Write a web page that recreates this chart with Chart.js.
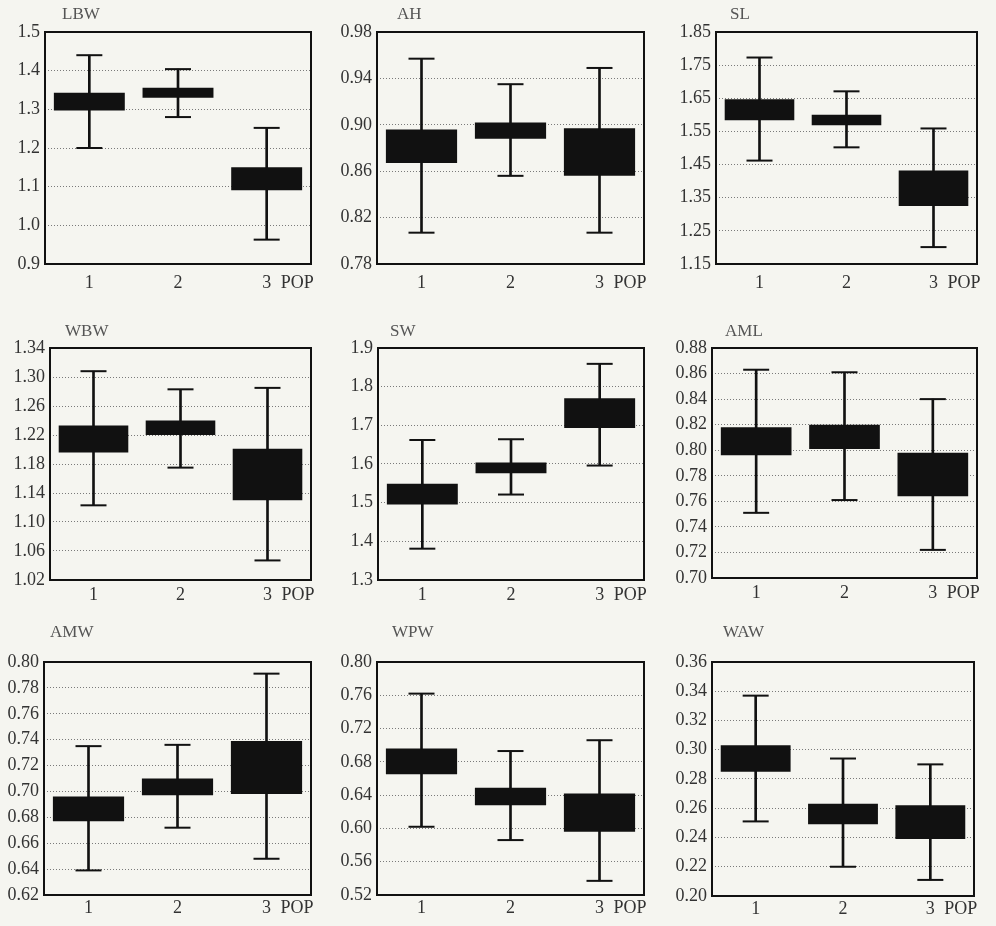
<!DOCTYPE html>
<html>
<head>
<meta charset="utf-8">
<script src="https://cdn.jsdelivr.net/npm/chart.js@4.4.0/dist/chart.umd.min.js"></script>
<style>
  body { margin: 0; background: #f5f5f0; }
  #wrap { position: relative; width: 996px; height: 926px; overflow: hidden; }
  .panel { position: absolute; }
</style>
</head>
<body>
<div id="wrap"></div>
<script>
const pops = ['1', '2', '3'];

// whisker low / box low / box high / whisker high, per population
const lbwMin = [1.200, 1.280, 0.963];
const lbwLo  = [1.297, 1.330, 1.091];
const lbwHi  = [1.343, 1.356, 1.150];
const lbwMax = [1.440, 1.404, 1.252];
const lbwTicks = ['0.9', '1.0', '1.1', '1.2', '1.3', '1.4', '1.5'];

const ahMin = [0.807, 0.856, 0.807];
const ahLo  = [0.867, 0.888, 0.856];
const ahHi  = [0.896, 0.902, 0.897];
const ahMax = [0.957, 0.935, 0.949];
const ahTicks = ['0.78', '0.82', '0.86', '0.90', '0.94', '0.98'];

const slMin = [1.462, 1.502, 1.201];
const slLo  = [1.584, 1.569, 1.325];
const slHi  = [1.647, 1.600, 1.432];
const slMax = [1.773, 1.671, 1.559];
const slTicks = ['1.15', '1.25', '1.35', '1.45', '1.55', '1.65', '1.75', '1.85'];

const wbwMin = [1.123, 1.175, 1.047];
const wbwLo  = [1.196, 1.220, 1.130];
const wbwHi  = [1.233, 1.240, 1.201];
const wbwMax = [1.308, 1.283, 1.285];
const wbwTicks = ['1.02', '1.06', '1.10', '1.14', '1.18', '1.22', '1.26', '1.30', '1.34'];

const swMin = [1.381, 1.521, 1.596];
const swLo  = [1.495, 1.576, 1.693];
const swHi  = [1.549, 1.604, 1.770];
const swMax = [1.662, 1.664, 1.859];
const swTicks = ['1.3', '1.4', '1.5', '1.6', '1.7', '1.8', '1.9'];

const amlMin = [0.751, 0.761, 0.722];
const amlLo  = [0.796, 0.801, 0.764];
const amlHi  = [0.818, 0.820, 0.798];
const amlMax = [0.863, 0.861, 0.840];
const amlTicks = ['0.70', '0.72', '0.74', '0.76', '0.78', '0.80', '0.82', '0.84', '0.86', '0.88'];

const amwMin = [0.639, 0.672, 0.648];
const amwLo  = [0.677, 0.697, 0.698];
const amwHi  = [0.696, 0.710, 0.739];
const amwMax = [0.735, 0.736, 0.791];
const amwTicks = ['0.62', '0.64', '0.66', '0.68', '0.70', '0.72', '0.74', '0.76', '0.78', '0.80'];

const wpwMin = [0.602, 0.586, 0.537];
const wpwLo  = [0.665, 0.628, 0.596];
const wpwHi  = [0.696, 0.649, 0.642];
const wpwMax = [0.762, 0.693, 0.706];
const wpwTicks = ['0.52', '0.56', '0.60', '0.64', '0.68', '0.72', '0.76', '0.80'];

const wawMin = [0.251, 0.220, 0.211];
const wawLo  = [0.285, 0.249, 0.239];
const wawHi  = [0.303, 0.263, 0.262];
const wawMax = [0.337, 0.294, 0.290];
const wawTicks = ['0.20', '0.22', '0.24', '0.26', '0.28', '0.30', '0.32', '0.34', '0.36'];

const panels = [
  { name: 'LBW', min: lbwMin, lo: lbwLo, hi: lbwHi, max: lbwMax, ticks: lbwTicks },
  { name: 'AH',  min: ahMin,  lo: ahLo,  hi: ahHi,  max: ahMax,  ticks: ahTicks },
  { name: 'SL',  min: slMin,  lo: slLo,  hi: slHi,  max: slMax,  ticks: slTicks },
  { name: 'WBW', min: wbwMin, lo: wbwLo, hi: wbwHi, max: wbwMax, ticks: wbwTicks },
  { name: 'SW',  min: swMin,  lo: swLo,  hi: swHi,  max: swMax,  ticks: swTicks },
  { name: 'AML', min: amlMin, lo: amlLo, hi: amlHi, max: amlMax, ticks: amlTicks },
  { name: 'AMW', min: amwMin, lo: amwLo, hi: amwHi, max: amwMax, ticks: amwTicks },
  { name: 'WPW', min: wpwMin, lo: wpwLo, hi: wpwHi, max: wpwMax, ticks: wpwTicks },
  { name: 'WAW', min: wawMin, lo: wawLo, hi: wawHi, max: wawMax, ticks: wawTicks }
];

// plot area on the page: left, top, right, bottom, title dx, title gap, label gap
const rects = [
  [45, 32, 316, 264, 17, 17, 8], [377, 32, 649, 264, 20, 17, 8], [716, 32, 982, 264, 14, 17, 8],
  [50, 348, 316, 580, 15, 16, 4], [378, 348, 649, 580, 12, 16, 4], [712, 348, 982, 578, 13, 16, 4],
  [44, 662, 316, 895, 6, 29, 2], [377, 662, 649, 895, 15, 29, 2], [712, 662, 979, 896, 11, 29, 2]
];

const FONT = '"Liberation Serif", "Times New Roman", serif';
const INK = '#111';

const framePlugin = {
  id: 'frame',
  afterDraw(chart, args, opts) {
    const { ctx, chartArea: a } = chart;
    ctx.save();
    ctx.strokeStyle = INK;
    ctx.lineWidth = 2;
    ctx.strokeRect(a.left, a.top, a.right - a.left, a.bottom - a.top);
    ctx.textBaseline = 'middle';
    ctx.font = '17px ' + FONT;
    ctx.fillStyle = '#555';
    ctx.fillText(opts.title, a.left + opts.dx, a.top - opts.gap);
    ctx.font = '18px ' + FONT;
    ctx.fillStyle = '#333';
    const xs = chart.scales.x;
    ctx.fillText('POP', xs.getPixelForValue(2) + 14, xs.top + opts.pad + 10.8);
    ctx.restore();
  }
};

const wrap = document.getElementById('wrap');
const padL = 52, padT = 42, padR = 10, padB = 34;

panels.forEach((p, k) => {
  const [l, t, r, b, dx, gap, pad] = rects[k];
  const w = r - l + padL + padR, h = b - t + padT + padB;
  const div = document.createElement('div');
  div.className = 'panel';
  div.style.left = (l - padL) + 'px';
  div.style.top = (t - padT) + 'px';
  const canvas = document.createElement('canvas');
  canvas.width = w; canvas.height = h;
  div.appendChild(canvas);
  wrap.appendChild(div);

  const tickVals = p.ticks.map(Number);

  new Chart(canvas, {
    type: 'bar',
    data: {
      labels: pops,
      datasets: [
        { type: 'line', data: p.max, showLine: false, pointStyle: 'line', pointRadius: 13,
          pointBorderWidth: 2, pointBorderColor: INK, order: 0 },
        { type: 'line', data: p.min, showLine: false, pointStyle: 'line', pointRadius: 13,
          pointBorderWidth: 2, pointBorderColor: INK, order: 0 },
        { data: pops.map((_, i) => [p.lo[i], p.hi[i]]), backgroundColor: INK,
          barPercentage: 0.8, categoryPercentage: 1, grouped: false, order: 1 },
        { data: pops.map((_, i) => [p.min[i], p.max[i]]), backgroundColor: INK,
          barThickness: 2, grouped: false, order: 2 }
      ]
    },
    options: {
      responsive: false,
      animation: false,
      events: [],
      layout: { padding: { top: padT, right: padR, left: 0, bottom: 0 } },
      plugins: {
        legend: { display: false },
        tooltip: { enabled: false },
        frame: { title: p.name, dx: dx, gap: gap, pad: pad }
      },
      scales: {
        x: {
          offset: true,
          grid: { display: false, drawTicks: false },
          border: { display: false },
          ticks: { font: { family: FONT, size: 18 }, color: '#333', padding: pad },
          afterFit: (axis) => { axis.height = padB; }
        },
        y: {
          min: tickVals[0],
          max: tickVals[tickVals.length - 1],
          afterBuildTicks: (axis) => { axis.ticks = tickVals.map(v => ({ value: v })); },
          grid: { color: '#7a7a7a', lineWidth: 1, drawTicks: false },
          border: { display: false, dash: [1, 2] },
          ticks: {
            font: { family: FONT, size: 18 }, color: '#333', padding: 5,
            callback: (v, i) => p.ticks[i]
          },
          afterFit: (axis) => { axis.width = padL; }
        }
      }
    },
    plugins: [framePlugin]
  });
});
</script>
</body>
</html>
